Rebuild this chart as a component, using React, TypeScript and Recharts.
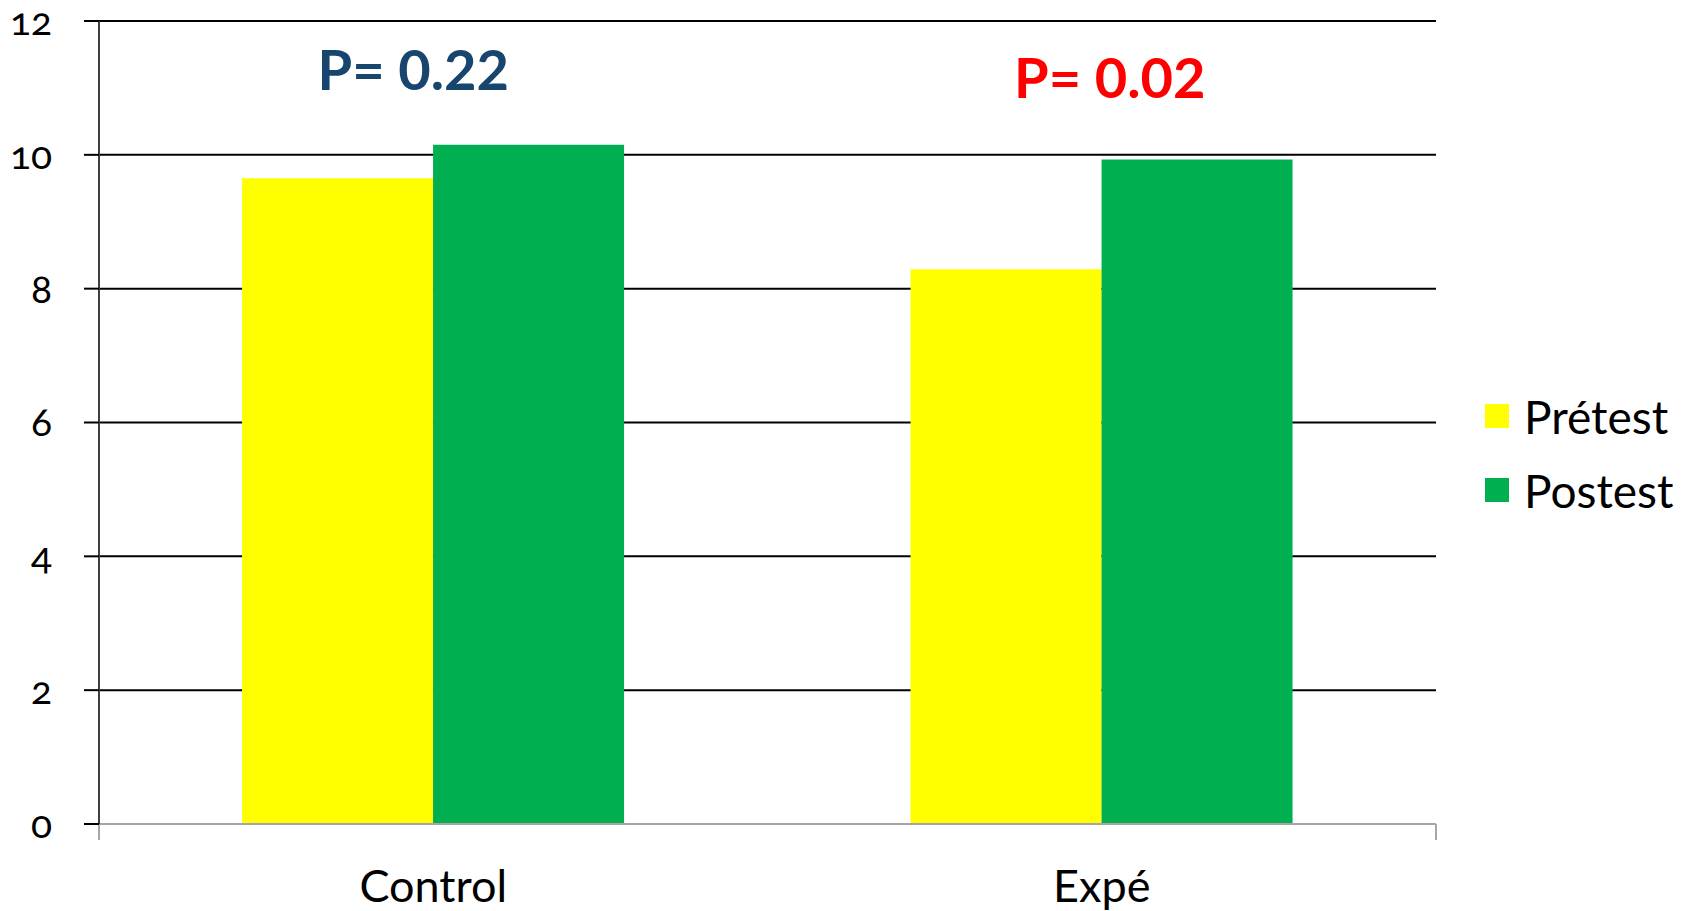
import { BarChart, Bar, XAxis, YAxis, CartesianGrid, Legend, ReferenceDot } from "recharts"

const FONT = "Lato, 'Open Sans', sans-serif"

const groups = ["Control", "Expé"]
const pretest = [9.65, 8.29]
const postest = [10.15, 9.93]
const yTicks = [0, 2, 4, 6, 8, 10, 12]
const groupEdges = [0, 1, 2]

const pLabels = ["P= 0.22", "P= 0.02"]
const pHeights = [11.26, 11.14]
const pShift = [-20, 8]
const pColors = ["#17456e", "#ff0000"]

const seriesNames = ["Prétest", "Postest"]
const seriesColors = ["#ffff00", "#00b050"]

const data = groups.map((g, i) => ({ group: g, pre: pretest[i], post: postest[i] }))

function NoLabel() {
  return <g />
}

function LegendBox() {
  return (
    <div style={{ fontFamily: FONT }}>
      {seriesNames.map((n, i) => (
        <div key={n} style={{ display: "flex", alignItems: "center", height: 74 }}>
          <span style={{ width: 24, height: 24, background: seriesColors[i], marginRight: 15 }} />
          <span style={{ fontSize: 46, color: "#000" }}>{n}</span>
        </div>
      ))}
    </div>
  )
}

export default function App() {
  return (
    <div style={{ position: "absolute", left: 0, top: 0, background: "#fff" }}>
      <BarChart
        width={1694}
        height={911}
        data={data}
        margin={{ top: 21, right: 258, bottom: 0, left: 0 }}
        barCategoryGap="21.4%"
        barGap={0}
      >
        <CartesianGrid vertical={false} stroke="#000" strokeWidth={2} />
        {/* number axis only used for the tick marks between the groups */}
        <XAxis
          type="number"
          domain={[0, 2]}
          allowDataOverflow
          ticks={groupEdges}
          interval={0}
          minTickGap={0}
          tick={<NoLabel />}
          height={1}
          stroke="#a6a6a6"
          strokeWidth={2}
          tickSize={16}
          tickLine={{ stroke: "#a6a6a6", strokeWidth: 2 }}
        />
        <XAxis
          xAxisId={1}
          dataKey="group"
          height={86}
          axisLine={false}
          tickLine={false}
          tickSize={6}
          tickMargin={39}
          tick={{ fill: "#000", fontSize: 45, fontFamily: FONT }}
        />
        <YAxis
          width={99}
          domain={[0, 12]}
          ticks={yTicks}
          interval={0}
          stroke="#404040"
          strokeWidth={2}
          tickSize={15}
          tickMargin={32}
          tickLine={{ stroke: "#000", strokeWidth: 2 }}
          tick={{ fill: "#000", fontSize: 39, fontFamily: FONT, style: { fontVariantNumeric: "oldstyle-nums" } }}
        />
        <Bar xAxisId={1} dataKey="pre" name={seriesNames[0]} fill={seriesColors[0]} isAnimationActive={false} />
        <Bar xAxisId={1} dataKey="post" name={seriesNames[1]} fill={seriesColors[1]} isAnimationActive={false} />
        {groups.map((g, i) => (
          <ReferenceDot
            key={g}
            xAxisId={1}
            x={g}
            y={pHeights[i]}
            r={0}
            stroke="none"
            fill="none"
            label={{
              value: pLabels[i],
              position: "center",
              dx: pShift[i],
              fill: pColors[i],
              fontSize: 56,
              fontWeight: 700,
              fontFamily: FONT,
            }}
          />
        ))}
        <Legend
          layout="vertical"
          align="center"
          verticalAlign="middle"
          content={<LegendBox />}
          wrapperStyle={{ left: 1485, top: 379, width: 220 }}
        />
      </BarChart>
    </div>
  )
}
